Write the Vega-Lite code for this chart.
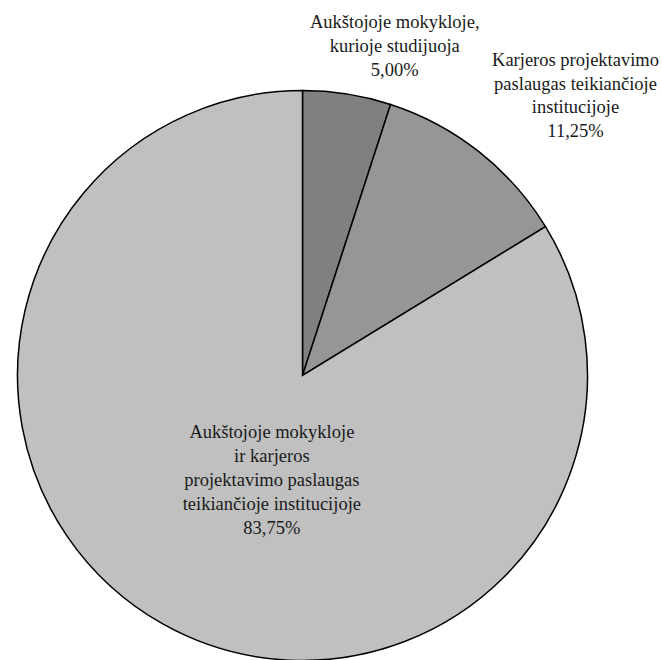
{
  "$schema": "https://vega.github.io/schema/vega-lite/v6.json",
  "width": 605,
  "height": 569,
  "autosize": {"type": "none"},
  "padding": {"left": 0, "top": 91, "right": 57, "bottom": 0},
  "background": "white",
  "config": {"view": {"stroke": null}},
  "data": {
    "values": [
      {"nr": 1, "grupe": "Aukštojoje mokykloje, kurioje studijuoja", "procentai": 5.00, "etikete": "Aukštojoje mokykloje,\nkurioje studijuoja\n5,00%"},
      {"nr": 2, "grupe": "Karjeros projektavimo paslaugas teikiančioje institucijoje", "procentai": 11.25, "etikete": "Karjeros projektavimo\npaslaugas teikiančioje\ninstitucijoje\n11,25%"},
      {"nr": 3, "grupe": "Aukštojoje mokykloje ir karjeros projektavimo paslaugas teikiančioje institucijoje", "procentai": 83.75, "etikete": "Aukštojoje mokykloje\nir karjeros\nprojektavimo paslaugas\nteikiančioje institucijoje\n83,75%"}
    ]
  },
  "encoding": {
    "theta": {"field": "procentai", "type": "quantitative", "stack": true},
    "order": {"field": "nr", "type": "quantitative"}
  },
  "layer": [
    {
      "mark": {"type": "arc", "outerRadius": 285, "stroke": "#000000", "strokeWidth": 1.5},
      "encoding": {
        "color": {
          "field": "grupe",
          "type": "nominal",
          "sort": null,
          "scale": {
            "domain": [
              "Aukštojoje mokykloje, kurioje studijuoja",
              "Karjeros projektavimo paslaugas teikiančioje institucijoje",
              "Aukštojoje mokykloje ir karjeros projektavimo paslaugas teikiančioje institucijoje"
            ],
            "range": ["#808080", "#969696", "#c0c0c0"]
          },
          "legend": null
        }
      }
    },
    {
      "mark": {"type": "text", "radius": 334, "dx": 40, "dy": -24, "font": "Liberation Serif, Times New Roman, DejaVu Serif, serif", "fontSize": 18.5, "lineHeight": 24, "lineBreak": "\n", "align": "center", "baseline": "middle", "color": "#1a1a1a"},
      "encoding": {
        "text": {"condition": {"test": "datum.nr === 1", "field": "etikete"}, "value": ""}
      }
    },
    {
      "mark": {"type": "text", "radius": 357, "dx": 52, "dy": -35, "font": "Liberation Serif, Times New Roman, DejaVu Serif, serif", "fontSize": 18.5, "lineHeight": 23.5, "lineBreak": "\n", "align": "center", "baseline": "middle", "color": "#1a1a1a"},
      "encoding": {
        "text": {"condition": {"test": "datum.nr === 2", "field": "etikete"}, "value": ""}
      }
    },
    {
      "mark": {"type": "text", "radius": 120, "dx": 28, "dy": -48, "font": "Liberation Serif, Times New Roman, DejaVu Serif, serif", "fontSize": 18.5, "lineHeight": 24, "lineBreak": "\n", "align": "center", "baseline": "middle", "color": "#1a1a1a"},
      "encoding": {
        "text": {"condition": {"test": "datum.nr === 3", "field": "etikete"}, "value": ""}
      }
    }
  ]
}
